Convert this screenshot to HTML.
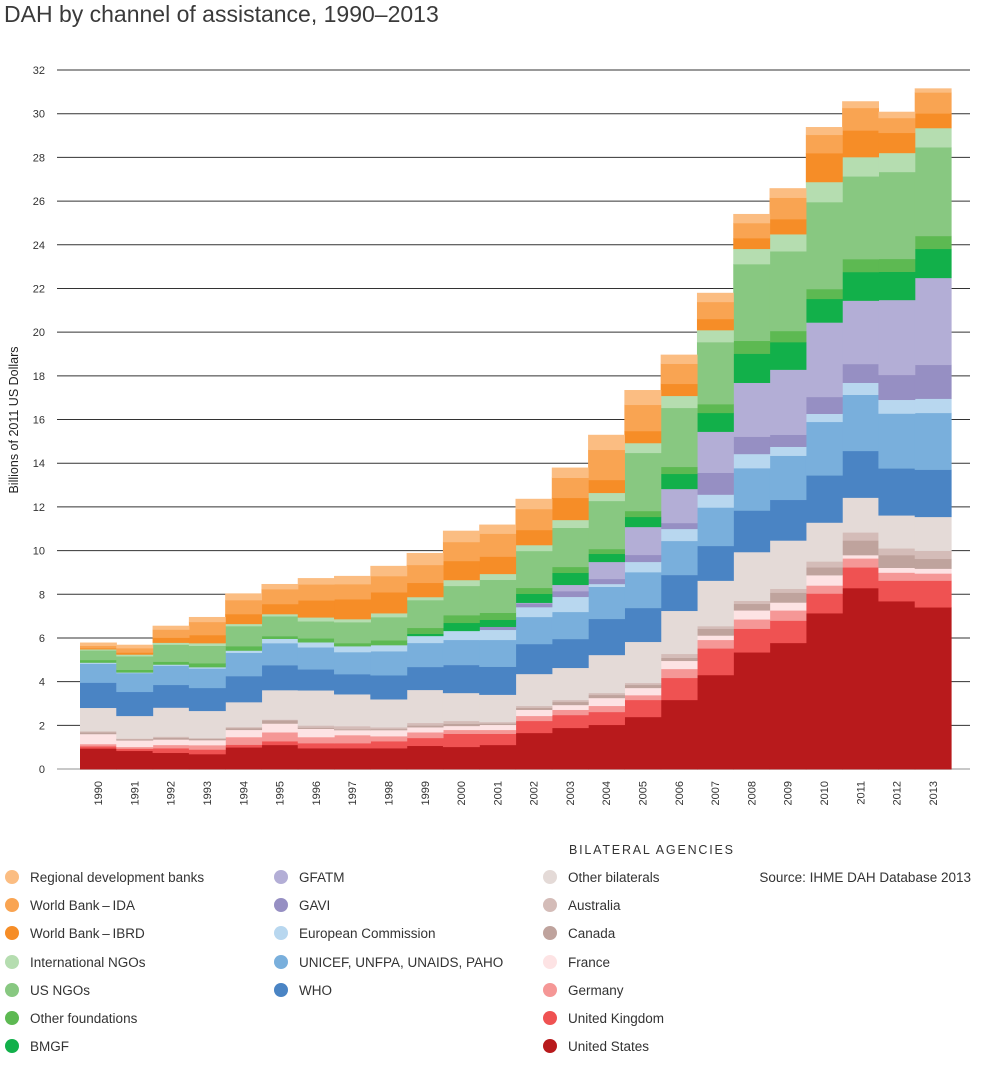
<!DOCTYPE html>
<html><head><meta charset="utf-8">
<style>
body{margin:0;background:#fff;width:985px;height:1074px;overflow:hidden;font-family:"Liberation Sans",sans-serif;}
svg{position:absolute;left:0;top:0;}
</style></head>
<body>
<svg id="chart" width="985" height="1074"></svg>
<script>
const years=[1990,1991,1992,1993,1994,1995,1996,1997,1998,1999,2000,2001,2002,2003,2004,2005,2006,2007,2008,2009,2010,2011,2012,2013];
const yTicks=[0,2,4,6,8,10,12,14,16,18,20,22,24,26,28,30,32];
const seriesNames=["United States","United Kingdom","Germany","France","Canada","Australia","Other bilaterals","WHO","UNICEF, UNFPA, UNAIDS,  PAHO","European Commission","GAVI","GFATM","BMGF","Other foundations","US NGOs","International NGOs","World Bank – IBRD","World Bank – IDA","Regional development banks"];
const unitedStates=[0.95,0.84,0.75,0.69,1.0,1.11,0.96,0.96,0.96,1.07,1.02,1.11,1.66,1.89,2.03,2.39,3.17,4.31,5.35,5.78,7.14,8.29,7.69,7.41];
const unitedKingdom=[0.1,0.1,0.21,0.21,0.12,0.17,0.23,0.23,0.32,0.36,0.6,0.51,0.55,0.59,0.59,0.78,1.01,1.22,1.08,1.02,0.9,0.95,0.94,1.22];
const germany=[0.1,0.08,0.15,0.2,0.35,0.41,0.28,0.37,0.23,0.26,0.18,0.18,0.23,0.24,0.28,0.22,0.41,0.39,0.43,0.47,0.37,0.41,0.37,0.33];
const france=[0.46,0.3,0.25,0.23,0.33,0.4,0.38,0.23,0.28,0.23,0.18,0.23,0.28,0.22,0.36,0.33,0.37,0.2,0.41,0.36,0.47,0.15,0.22,0.22];
const canada=[0.08,0.05,0.08,0.07,0.08,0.15,0.05,0.04,0.05,0.08,0.1,0.06,0.09,0.14,0.14,0.14,0.14,0.31,0.3,0.45,0.36,0.67,0.58,0.45];
const australia=[0.05,0.03,0.05,0.02,0.05,0.03,0.1,0.14,0.08,0.12,0.13,0.07,0.09,0.09,0.09,0.09,0.18,0.12,0.14,0.18,0.27,0.37,0.31,0.37];
const otherBilaterals=[1.07,1.04,1.33,1.25,1.14,1.35,1.61,1.46,1.28,1.51,1.28,1.25,1.46,1.47,1.74,1.88,1.97,2.08,2.23,2.21,1.78,1.59,1.51,1.55];
const who=[1.15,1.1,1.04,1.05,1.19,1.14,0.96,0.92,1.1,1.05,1.28,1.28,1.37,1.32,1.65,1.55,1.64,1.59,1.9,1.86,2.16,2.14,2.15,2.16];
const unicef=[0.87,0.86,0.88,0.89,1.07,1.01,1.01,1.01,1.1,1.1,1.15,1.23,1.24,1.24,1.47,1.64,1.56,1.76,1.94,2.02,2.45,2.57,2.51,2.6];
const europeanCommission=[0.05,0.03,0.05,0.06,0.1,0.2,0.23,0.27,0.28,0.32,0.41,0.46,0.45,0.69,0.13,0.47,0.55,0.59,0.65,0.41,0.37,0.55,0.63,0.65];
const gavi=[0,0,0,0,0,0,0,0,0,0,0,0.14,0.17,0.26,0.23,0.32,0.27,1.0,0.79,0.55,0.77,0.86,1.14,1.55];
const gfatm=[0,0,0,0,0,0,0,0,0,0,0,0,0.03,0.29,0.78,1.28,1.56,1.88,2.47,2.98,3.41,2.9,3.43,3.98];
const bmgf=[0,0,0,0,0,0,0,0,0,0.1,0.37,0.32,0.41,0.55,0.37,0.46,0.69,0.86,1.33,1.26,1.08,1.31,1.29,1.33];
const otherFoundations=[0.12,0.12,0.13,0.18,0.2,0.12,0.18,0.14,0.22,0.27,0.35,0.32,0.27,0.27,0.22,0.27,0.32,0.4,0.59,0.51,0.45,0.59,0.59,0.59];
const usNgos=[0.44,0.62,0.78,0.8,0.92,0.91,0.78,0.96,1.06,1.27,1.34,1.51,1.69,1.79,2.2,2.66,2.7,2.84,3.51,3.65,3.98,3.79,3.98,4.06];
const intlNgos=[0.05,0.08,0.09,0.12,0.1,0.1,0.18,0.14,0.18,0.14,0.27,0.27,0.27,0.36,0.37,0.45,0.55,0.55,0.7,0.78,0.92,0.88,0.87,0.88];
const worldBankIbrd=[0.05,0.09,0.23,0.37,0.45,0.46,0.78,0.91,0.96,0.65,0.87,0.79,0.69,1.01,0.59,0.55,0.55,0.51,0.49,0.69,1.32,1.22,0.92,0.67];
const worldBankIda=[0.11,0.2,0.37,0.6,0.64,0.68,0.73,0.69,0.74,0.82,0.87,1.05,0.96,0.92,1.38,1.2,0.92,0.78,0.69,0.98,0.84,1.03,0.68,0.96];
const regionalBanks=[0.14,0.15,0.17,0.22,0.3,0.23,0.28,0.37,0.46,0.54,0.51,0.41,0.46,0.46,0.68,0.67,0.41,0.41,0.41,0.43,0.35,0.3,0.28,0.18];
const seriesValues=[unitedStates,unitedKingdom,germany,france,canada,australia,otherBilaterals,who,unicef,europeanCommission,gavi,gfatm,bmgf,otherFoundations,usNgos,intlNgos,worldBankIbrd,worldBankIda,regionalBanks];
const colors=["#b81a1c","#ef5252","#f59796","#fde3e4","#bfa39d","#d4bcb8","#e4dad7","#4a84c4","#79afdc","#b8d7ef","#968fc3","#b3aed6","#12b04a","#5db952","#88c881","#b5ddb0","#f68d27","#f9a452","#fbbd82"];

const NS="http://www.w3.org/2000/svg";
const svg=document.getElementById('chart');
function el(tag,attrs,parent){const e=document.createElementNS(NS,tag);for(const k in attrs)e.setAttribute(k,attrs[k]);(parent||svg).appendChild(e);return e;}
const x0=80,x1=951,yBase=769,yTop=70,maxV=32;
const step=(x1-x0)/years.length;
function xScale(i){return x0+i*step;}
function yScale(v){return yBase-(v/maxV)*(yBase-yTop);}

// title
let t=el('text',{x:4,y:22,'font-size':23,fill:'#3a3a3a','font-family':'Liberation Sans, sans-serif'});
t.textContent="DAH by channel of assistance, 1990–2013";



// gridlines & y ticks
yTicks.forEach(v=>{
  const y=yScale(v);
  const g=el('line',{x1:57,x2:970,y1:y,y2:y,stroke:v===0?'#c8c8c8':'#333','stroke-width':v===0?2:1});
  
  
  const lt=el('text',{x:45,y:y+4,'text-anchor':'end','font-size':11,fill:'#333'});
  lt.textContent=v;
  
  
});

// stacked steps
const cum=years.map(()=>0);
seriesValues.forEach((arr,s)=>{
  const grp=el('g',{});
  
  
  arr.forEach((v,i)=>{
    if(v<=0)return;
    const b=cum[i],tp=b+v;
    const r=el('rect',{x:xScale(i),y:yScale(tp),width:step+0.6,height:yScale(b)-yScale(tp)+0.4,fill:colors[s]},grp);
    
    
    cum[i]=tp;
  });
});

// x labels
years.forEach((yr,i)=>{
  const cx=xScale(i)+step/2+4;
  const lt=el('text',{x:cx,y:781,'text-anchor':'end','font-size':11,fill:'#333',transform:`rotate(-90 ${cx} 781)`});
  lt.textContent=yr;
  
  
});

// y axis title
const yt=el('text',{x:18,y:420,'text-anchor':'middle','font-size':12.5,fill:'#222',transform:'rotate(-90 18 420)'});
yt.textContent="Billions of 2011 US Dollars";



// legend
const cols=[[18,12,11,10],[17,16,15,14,13,12],[]];
const legendCols=[
  [18,17,16,15,14,13,12],
  [11,10,9,8,7],
  [6,5,4,3,2,1,0]
];
const colX=[12,281,550];
const rowY=[877,905,933,962,990,1018,1046];
const legendLabels=["United States","United Kingdom","Germany","France","Canada","Australia","Other bilaterals","WHO","UNICEF, UNFPA, UNAIDS,  PAHO","European Commission","GAVI","GFATM","BMGF","Other foundations","US NGOs","International NGOs","World Bank – IBRD","World Bank – IDA","Regional development banks"];
legendCols.forEach((col,c)=>{
  col.forEach((s,r)=>{
    const g=el('g',{});
    
    
    el('circle',{cx:colX[c],cy:rowY[r],r:7,fill:colors[s]},g);
    const lt=el('text',{x:colX[c]+18,y:rowY[r]+5,'font-size':13.5,fill:'#333'},g);
    lt.textContent=legendLabels[s].replace(' – ','\u2009–\u2009');
  });
});
const bl=el('text',{x:569,y:854,'font-size':12.5,fill:'#333','letter-spacing':'1.8'});
bl.textContent="BILATERAL AGENCIES";


const src=el('text',{x:971,y:882,'text-anchor':'end','font-size':13.5,fill:'#333'});
src.textContent="Source: IHME DAH Database 2013";


</script>
</body></html>
